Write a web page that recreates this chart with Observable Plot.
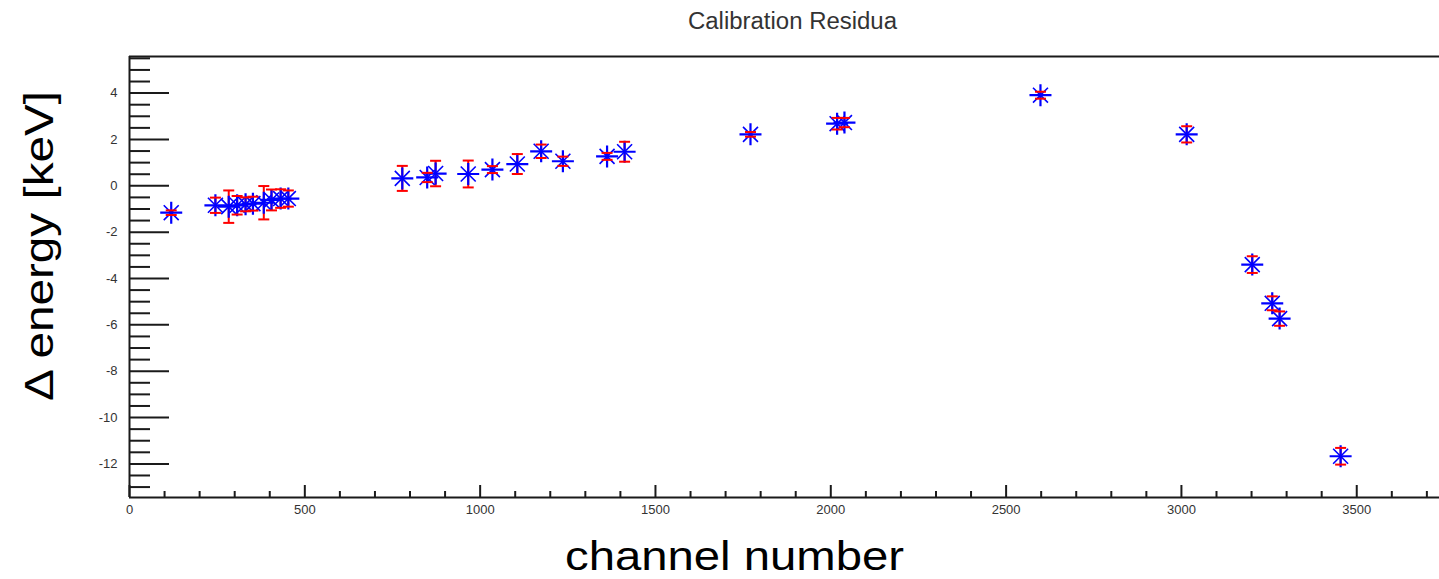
<!DOCTYPE html>
<html>
<head>
<meta charset="utf-8">
<script src="https://cdn.jsdelivr.net/npm/d3@7"></script>
<script src="https://cdn.jsdelivr.net/npm/@observablehq/plot@0.6"></script>
<style>
  html, body { margin: 0; padding: 0; background: #fff; overflow: hidden; }
  #chart svg { display: block; }
</style>
</head>
<body>
<div id="chart"></div>
<script>
// ---- text ----
const title = "Calibration Residua";
const xLabel = "channel number";
const yLabel = "Δ energy [keV]";

// ---- data ----
const channel  = [119, 245, 283, 307, 331, 352, 383, 405, 431, 453,
                  778, 849, 873, 966, 1035, 1106, 1174, 1236, 1362, 1412,
                  1771, 2018, 2039, 2598, 3015, 3202, 3259, 3280, 3454];
const residual = [-1.16, -0.84, -0.90, -0.84, -0.80, -0.77, -0.73, -0.61, -0.55, -0.55,
                  0.32, 0.36, 0.53, 0.51, 0.70, 0.94, 1.49, 1.06, 1.27, 1.47,
                  2.22, 2.68, 2.73, 3.91, 2.22, -3.40, -5.07, -5.73, -11.67];
const errorBar = [0.10, 0.33, 0.70, 0.40, 0.30, 0.30, 0.72, 0.45, 0.40, 0.35,
                  0.54, 0.20, 0.55, 0.58, 0.15, 0.43, 0.29, 0.20, 0.15, 0.43,
                  0.10, 0.25, 0.20, 0.15, 0.35, 0.36, 0.30, 0.31, 0.36];

// ---- axes ----
const xDomain = [0, 3736];
const yDomain = [-13.45, 5.58];
const xMajorTicks = [0, 500, 1000, 1500, 2000, 2500, 3000, 3500];
const xMinorTicks = d3.range(100, 3701, 100).filter(v => v % 500 !== 0);
const yMajorTicks = [-12, -10, -8, -6, -4, -2, 0, 2, 4];
const yMinorTicks = d3.range(-13, 5.51, 0.5).filter(v => v % 2 !== 0);

const points = channel.map((c, i) => ({channel: c, residual: residual[i], error: errorBar[i]}));

// ---- custom marker shapes ----
const plusSym = {draw(ctx, size) { const r = Math.sqrt(size / Math.PI);
  ctx.moveTo(-r, 0); ctx.lineTo(r, 0); ctx.moveTo(0, -r); ctx.lineTo(0, r); }};
const timesSym = {draw(ctx, size) { const r = Math.sqrt(size / Math.PI) * 0.68;
  ctx.moveTo(-r, -r); ctx.lineTo(r, r); ctx.moveTo(-r, r); ctx.lineTo(r, -r); }};
const capSym = {draw(ctx, size) { const r = Math.sqrt(size / Math.PI);
  ctx.moveTo(-r, 0); ctx.lineTo(r, 0); }};

const W = 1439, H = 579;
const mL = 129, mR = 0, mT = 56, mB = 82;
const frameW = W - mL - mR, frameH = H - mT - mB;
const axisColor = "#1a1a1a";
const red = "#ff0000", blue = "#0000ff";

const chart = Plot.plot({
  width: W, height: H,
  marginLeft: mL, marginRight: mR, marginTop: mT, marginBottom: mB,
  style: {fontFamily: "'Liberation Sans', Arial, Helvetica, sans-serif", background: "#fff"},
  x: {domain: xDomain},
  y: {domain: yDomain},
  marks: [
    // frame lines
    Plot.ruleX([xDomain[0]], {stroke: axisColor, strokeWidth: 2}),
    Plot.ruleY([yDomain[0]], {stroke: axisColor, strokeWidth: 2}),
    Plot.ruleY([yDomain[1]], {stroke: axisColor, strokeWidth: 2}),
    // inward ticks
    Plot.tickY(yMajorTicks, {y: d => d, insetRight: frameW - 40, stroke: axisColor, strokeWidth: 2}),
    Plot.tickY(yMinorTicks, {y: d => d, insetRight: frameW - 21, stroke: axisColor, strokeWidth: 2}),
    Plot.tickX(xMajorTicks, {x: d => d, insetTop: frameH - 12, stroke: axisColor, strokeWidth: 2}),
    Plot.tickX(xMinorTicks, {x: d => d, insetTop: frameH - 6, stroke: axisColor, strokeWidth: 2}),
    // tick labels
    Plot.axisY(yMajorTicks, {tickSize: 0, tickPadding: 12, tickFormat: d => String(d), fontSize: 13, fill: "#333", label: null}),
    Plot.axisX(xMajorTicks, {tickSize: 0, tickPadding: 7, tickFormat: d => String(d), fontSize: 13, fill: "#333", label: null}),
    // error bars
    Plot.ruleX(points, {x: "channel", y1: d => d.residual - d.error, y2: d => d.residual + d.error, stroke: red, strokeWidth: 2}),
    // markers
    Plot.dot(points, {x: "channel", y: "residual", symbol: plusSym, r: 11, fill: "none", stroke: blue, strokeWidth: 2.2}),
    Plot.dot(points, {x: "channel", y: "residual", symbol: timesSym, r: 11, fill: "none", stroke: blue, strokeWidth: 1.6}),
    // error caps
    Plot.dot(points, {x: "channel", y: d => d.residual + d.error, symbol: capSym, r: 5.5, fill: "none", stroke: red, strokeWidth: 2}),
    Plot.dot(points, {x: "channel", y: d => d.residual - d.error, symbol: capSym, r: 5.5, fill: "none", stroke: red, strokeWidth: 2}),
    // title and axis titles
    Plot.text([title], {text: d => d, frameAnchor: "top", dx: 8, dy: -28, lineAnchor: "bottom", fontSize: 23, fill: "#333"}),
    Plot.text([xLabel], {text: d => d, frameAnchor: "bottom", dx: -50, dy: 72, lineAnchor: "bottom", fontSize: 40, fill: "#000"}),
    Plot.text([yLabel], {text: d => d, frameAnchor: "left", rotate: -90, dx: -77, dy: -31, lineAnchor: "bottom", textAnchor: "middle", fontSize: 40, fill: "#000"})
  ]
});

// stretch the titles horizontally to the reference's wider lettering
const stretch = {[title]: 209, [xLabel]: 339, [yLabel]: 310};
chart.querySelectorAll("text").forEach(t => {
  const w = stretch[t.textContent];
  if (w) { t.setAttribute("textLength", w); t.setAttribute("lengthAdjust", "spacingAndGlyphs"); }
});
document.getElementById("chart").appendChild(chart);
</script>
</body>
</html>
